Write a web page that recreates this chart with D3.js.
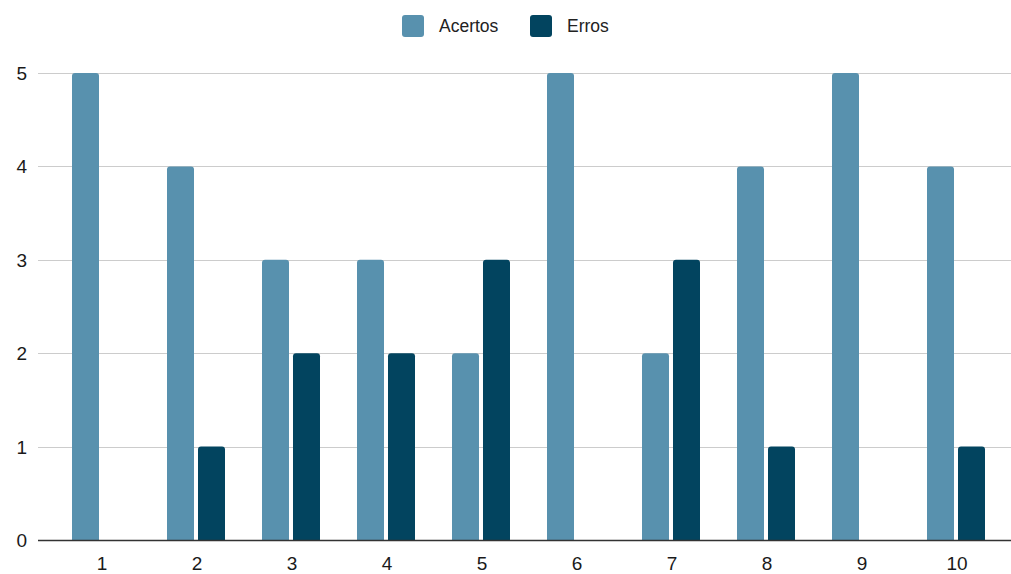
<!DOCTYPE html>
<html><head><meta charset="utf-8">
<script src="https://cdn.jsdelivr.net/npm/d3@7"></script>
<style>body{margin:0;background:#fff}</style>
</head><body>
<svg id="c" width="1011" height="574"></svg>
<script>
const categories = ["1","2","3","4","5","6","7","8","9","10"];
const seriesNames = ["Acertos","Erros"];
const acertos = [5,4,3,3,2,5,2,4,5,4];
const erros = [0,1,2,2,3,0,3,1,0,1];
const yTicks = [0,1,2,3,4,5];
const colors = ["#5891ae","#02445f"];

const svg = d3.select("#c");
const plotLeft = 38, plotRight = 1011;
const y = d3.scaleLinear().domain([0,5]).range([540,73]);
const x0 = d3.scaleBand().domain(categories).range([53.5,1003.5]);
const bw = x0.bandwidth();
const x1 = d3.scaleBand().domain(seriesNames).range([bw/2-29, bw/2+29]).paddingInner(0.129);

// gridlines
svg.append("g").selectAll("line").data(yTicks.filter(d=>d>0)).join("line")
  .attr("x1",plotLeft).attr("x2",plotRight)
  .attr("y1",d=>Math.round(y(d))+0.5).attr("y2",d=>Math.round(y(d))+0.5)
  .attr("stroke","#cccccc").attr("stroke-width",1.2);

// y labels
svg.append("g").selectAll("text").data(yTicks).join("text")
  .attr("x",27).attr("y",d=>y(d)+7)
  .attr("text-anchor","end")
  .attr("font-family","Liberation Sans, Arial, sans-serif")
  .attr("font-size",19).attr("fill","#1a1a1a")
  .text(d=>d);

const data = categories.map((c,i)=>({c, vals:[{s:"Acertos",v:acertos[i]},{s:"Erros",v:erros[i]}]}));

function topRounded(x,yTop,w,h,r){
  if(h<=0) return "";
  r = Math.min(r,h,w/2);
  return `M${x},${yTop+h}V${yTop+r}Q${x},${yTop} ${x+r},${yTop}H${x+w-r}Q${x+w},${yTop} ${x+w},${yTop+r}V${yTop+h}Z`;
}

const g = svg.append("g");
data.forEach(d=>{
  d.vals.forEach((e,j)=>{
    const xx = x0(d.c)+x1(e.s);
    const yt = y(e.v);
    g.append("path")
      .attr("d", topRounded(xx, yt, x1.bandwidth(), y(0)-yt, 3))
      .attr("fill", colors[j]);
  });
});

// baseline
svg.append("line").attr("x1",plotLeft).attr("x2",plotRight)
  .attr("y1",540.5).attr("y2",540.5).attr("stroke","#333").attr("stroke-width",1.3);

// x labels
svg.append("g").selectAll("text").data(categories).join("text")
  .attr("x",d=>x0(d)+bw/2+1).attr("y",570)
  .attr("text-anchor","middle")
  .attr("font-family","Liberation Sans, Arial, sans-serif")
  .attr("font-size",19).attr("fill","#1a1a1a")
  .text(d=>d);

// legend
const legendItems = [{name:"Acertos",sx:402,tx:439},{name:"Erros",sx:530,tx:567}];
const lg = svg.append("g");
legendItems.forEach((it,i)=>{
  lg.append("rect").attr("x",it.sx).attr("y",15).attr("width",22).attr("height",22)
    .attr("rx",3).attr("fill",colors[i]);
  lg.append("text").attr("x",it.tx).attr("y",32)
    .attr("font-family","Liberation Sans, Arial, sans-serif").attr("font-size",17.5).attr("fill","#222")
    .text(it.name);
});
</script>
</body></html>
